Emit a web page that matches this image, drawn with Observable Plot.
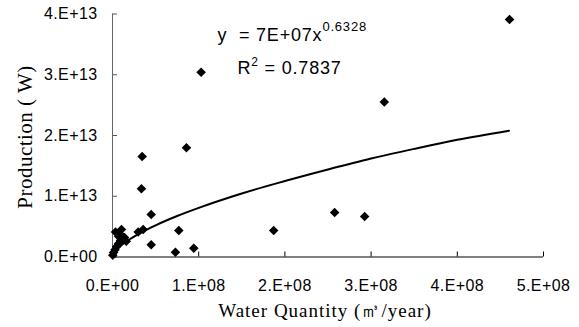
<!DOCTYPE html>
<html><head><meta charset="utf-8">
<script src="https://cdn.jsdelivr.net/npm/d3@7"></script>
<script src="https://cdn.jsdelivr.net/npm/@observablehq/plot@0.6"></script>
<style>
html,body{margin:0;padding:0;background:#fff;}
#chart{width:579px;height:327px;}
</style>
</head><body><div id="chart"></div>
<script>
// Observed points (m3/year, W)
const waterQuantity = [4.606e8, 1.028e8, 3.153e8, 0.858e8, 0.344e8, 0.336e8, 0.449e8, 0.104e8, 0.035e8,
  0.298e8, 0.356e8, 0.769e8, 0.449e8, 0.73e8, 0.943e8, 1.87e8, 2.577e8, 2.925e8,
  0.003e8, 0.012e8, 0.029e8, 0.046e8, 0.07e8, 0.093e8, 0.116e8, 0.139e8, 0.07e8, 0.093e8, 0.16e8];
const production = [3.91e13, 3.04e13, 2.55e13, 1.80e13, 1.654e13, 1.123e13, 0.70e13, 0.453e13, 0.41e13,
  0.41e13, 0.453e13, 0.436e13, 0.20e13, 0.079e13, 0.145e13, 0.436e13, 0.733e13, 0.667e13,
  0.03e13, 0.074e13, 0.12e13, 0.17e13, 0.22e13, 0.27e13, 0.30e13, 0.32e13, 0.34e13, 0.37e13, 0.26e13];

// Power trendline
const trendX = [0.012e8, 0.05e8, 0.1e8, 0.2e8, 0.35e8, 0.5e8, 0.75e8, 1.0e8, 1.5e8, 2.0e8, 2.5e8, 3.0e8, 3.5e8, 4.0e8, 4.6e8];
const trendY = [0.049e13, 0.121e13, 0.188e13, 0.292e13, 0.416e13, 0.522e13, 0.675e13, 0.809e13, 1.046e13, 1.25e13, 1.44e13, 1.62e13, 1.78e13, 1.93e13, 2.08e13];

const xTicks = [0, 1e8, 2e8, 3e8, 4e8, 5e8];
const xTickLabels = ["0.E+00", "1.E+08", "2.E+08", "3.E+08", "4.E+08", "5.E+08"];
const yTicks = [0, 1e13, 2e13, 3e13, 4e13];
const yTickLabels = ["0.E+00", "1.E+13", "2.E+13", "3.E+13", "4.E+13"];

const xTitle = "Water Quantity (㎥/year)";
const yTitle = "Production ( W)";
const eqMain = "y  = 7E+07x";
const eqExp = "0.6328";
const r2Base = "R";
const r2Sup = "2";
const r2Rest = " = 0.7837";

const points = waterQuantity.map((x, i) => ({x, y: production[i]}));
const trend = trendX.map((x, i) => ({x, y: trendY[i]}));

const sans = "'Liberation Sans', Arial, sans-serif";
const serif = "'Liberation Serif', 'Times New Roman', serif";

const chart = Plot.plot({
  width: 579, height: 327,
  marginLeft: 112, marginRight: 36, marginTop: 13.5, marginBottom: 70.5,
  x: {domain: [0, 5e8]},
  y: {domain: [0, 4e13]},
  style: {fontFamily: sans, background: "#fff", color: "#000"},
  marks: [
    Plot.axisX({ticks: xTicks, tickFormat: d => xTickLabels[xTicks.indexOf(d)], tickSize: 0, tickPadding: 22.8, fontSize: 16, label: null}),
    Plot.axisX({ticks: xTicks, tickSize: 5, dy: -5, text: null, label: null, stroke: "#000"}),
    Plot.axisY({ticks: yTicks, tickFormat: d => yTickLabels[yTicks.indexOf(d)], tickSize: 0, tickPadding: 15, fontSize: 16, label: null}),
    Plot.axisY({ticks: yTicks, tickSize: 5, dx: 5, text: null, label: null, stroke: "#555"}),
    Plot.ruleX([0], {stroke: "#666"}),
    Plot.ruleY([0], {stroke: "#000"}),
    Plot.line(trend, {x: "x", y: "y", stroke: "#000", strokeWidth: 2, curve: "monotone-x"}),
    Plot.dot(points, {x: "x", y: "y", symbol: "diamond2", r: 4.3, fill: "#000", stroke: null}),
    Plot.text([eqMain], {text: d => d, frameAnchor: "top-left", dx: 105, dy: 21.5, textAnchor: "start", lineAnchor: "middle", fontSize: 18, fontFamily: sans}),
    Plot.text([r2Base], {text: d => d, frameAnchor: "top-left", dx: 125, dy: 54.5, textAnchor: "start", lineAnchor: "middle", fontSize: 18, fontFamily: sans}),
    Plot.text([xTitle], {text: d => d, frameAnchor: "bottom", dx: -3, dy: 53.5, textAnchor: "middle", lineAnchor: "middle", fontSize: 19, fontFamily: serif}),
    Plot.text([yTitle], {text: d => d, frameAnchor: "left", rotate: -90, dx: -87, dy: 1.5, textAnchor: "middle", lineAnchor: "middle", fontSize: 21, fontFamily: serif})
  ]
});
document.getElementById("chart").appendChild(chart);

const svg = d3.select(chart);
const byText = s => svg.selectAll("text").filter(function() { return this.textContent === s; });
[...xTickLabels, ...yTickLabels].forEach(s => byText(s).attr("letter-spacing", 0.4));
byText(xTitle).attr("letter-spacing", 1);
byText(yTitle).attr("letter-spacing", 0.5);
const e1 = byText(eqMain).attr("letter-spacing", 0.8);
e1.append("tspan").attr("dy", -10).attr("font-size", 13).text(eqExp);
const e2 = byText(r2Base).attr("letter-spacing", 0.8);
e2.append("tspan").attr("dy", -8).attr("font-size", 12).text(r2Sup);
e2.append("tspan").attr("dy", 8).attr("font-size", 18).text(r2Rest);
</script>
</body></html>
